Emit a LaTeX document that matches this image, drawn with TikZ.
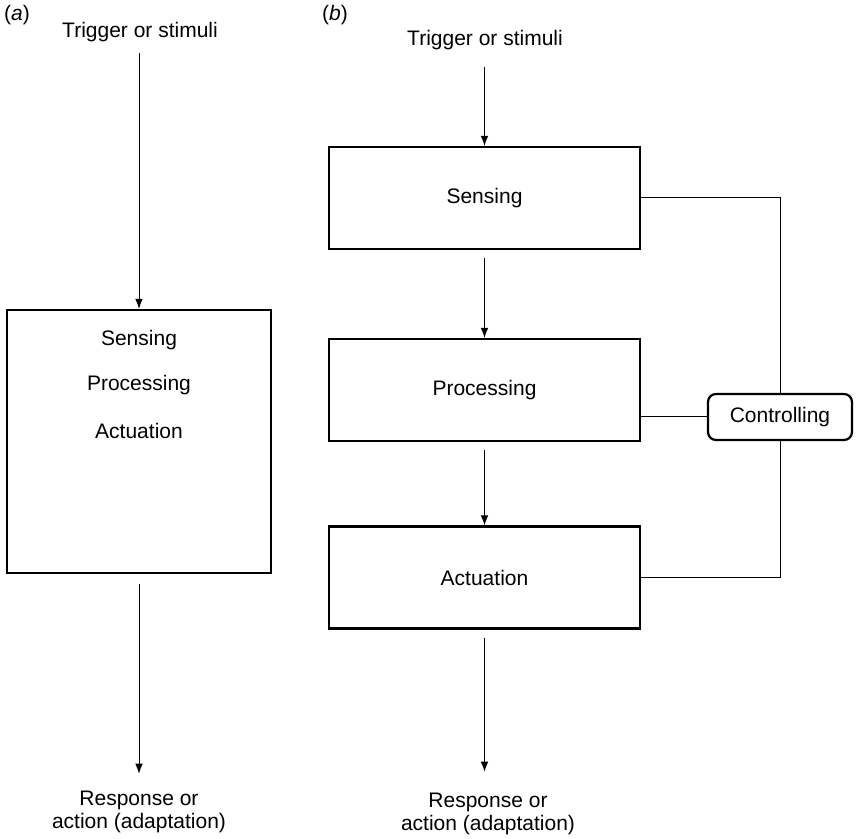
\documentclass[tikz,border=0pt]{standalone}
\usepackage{fontspec}
\setmainfont{Liberation Sans}
\usetikzlibrary{arrows.meta}
\tikzset{
  txt/.style={font=\fontsize{10.5}{11.8}\selectfont, align=center},
  blockbox/.style={txt, draw, line width=1.1pt, minimum width=155.5pt, minimum height=51pt, inner sep=0pt},
  ctrlbox/.style={txt, draw, line width=1.1pt, rounded corners=4pt, minimum width=72pt, minimum height=23pt, inner sep=0pt},
  flow/.style={-{Latex[length=5pt,width=3.8pt]}, line width=0.5pt},
  wire/.style={line width=0.5pt}
}
\begin{document}
\begin{tikzpicture}[x=0.5pt,y=-0.5pt]
\useasboundingbox (0,0) rectangle (858,839);
% (a)
\node[txt] (lbla) at (17,15) {(\textit{a})};
\node[txt] (trga) at (140,32) {Trigger or stimuli};
\node[blockbox, minimum width=132pt, minimum height=131.5pt] (boxa) at (139,441.5) {};
\node[txt] (sensa) at (139,340) {Sensing};
\node[txt] (proca) at (139,385) {Processing};
\node[txt] (acta) at (139,431) {Actuation};
\node[txt] (respa) at (139,812) {Response or\\action (adaptation)};
\draw[flow, shorten <=2pt] (trga.south -| boxa.north) -- (boxa.north);
\draw[flow, shorten <=5pt, shorten >=5pt] (boxa.south) -- (boxa.south |- respa.north);

% (b)
\node[txt] (lblb) at (335,15) {(\textit{b})};
\node[txt] (trgb) at (485,40) {Trigger or stimuli};
\node[blockbox] (sensb) at (484.5,198) {Sensing};
\node[blockbox] (procb) at (484.5,390) {Processing};
\node[blockbox] (actb) at (484.5,577.5) {Actuation};
\node[txt] (respb) at (488,814) {Response or\\action (adaptation)};
\node[ctrlbox] (ctrl) at (780,417) {Controlling};
\draw[flow, shorten <=5pt] (trgb.south -| sensb.north) -- (sensb.north);
\draw[flow, shorten <=4pt] (sensb) -- (procb);
\draw[flow, shorten <=4pt] (procb) -- (actb);
\draw[flow, shorten <=4pt, shorten >=7pt] (actb.south) -- (actb.south |- respb.north);
\draw[wire] (sensb.east) -| (ctrl.north);
\draw[wire] (ctrl.west) -- (ctrl.west -| procb.east);
\draw[wire] (actb.east) -| (ctrl.south);
\end{tikzpicture}
\end{document}
